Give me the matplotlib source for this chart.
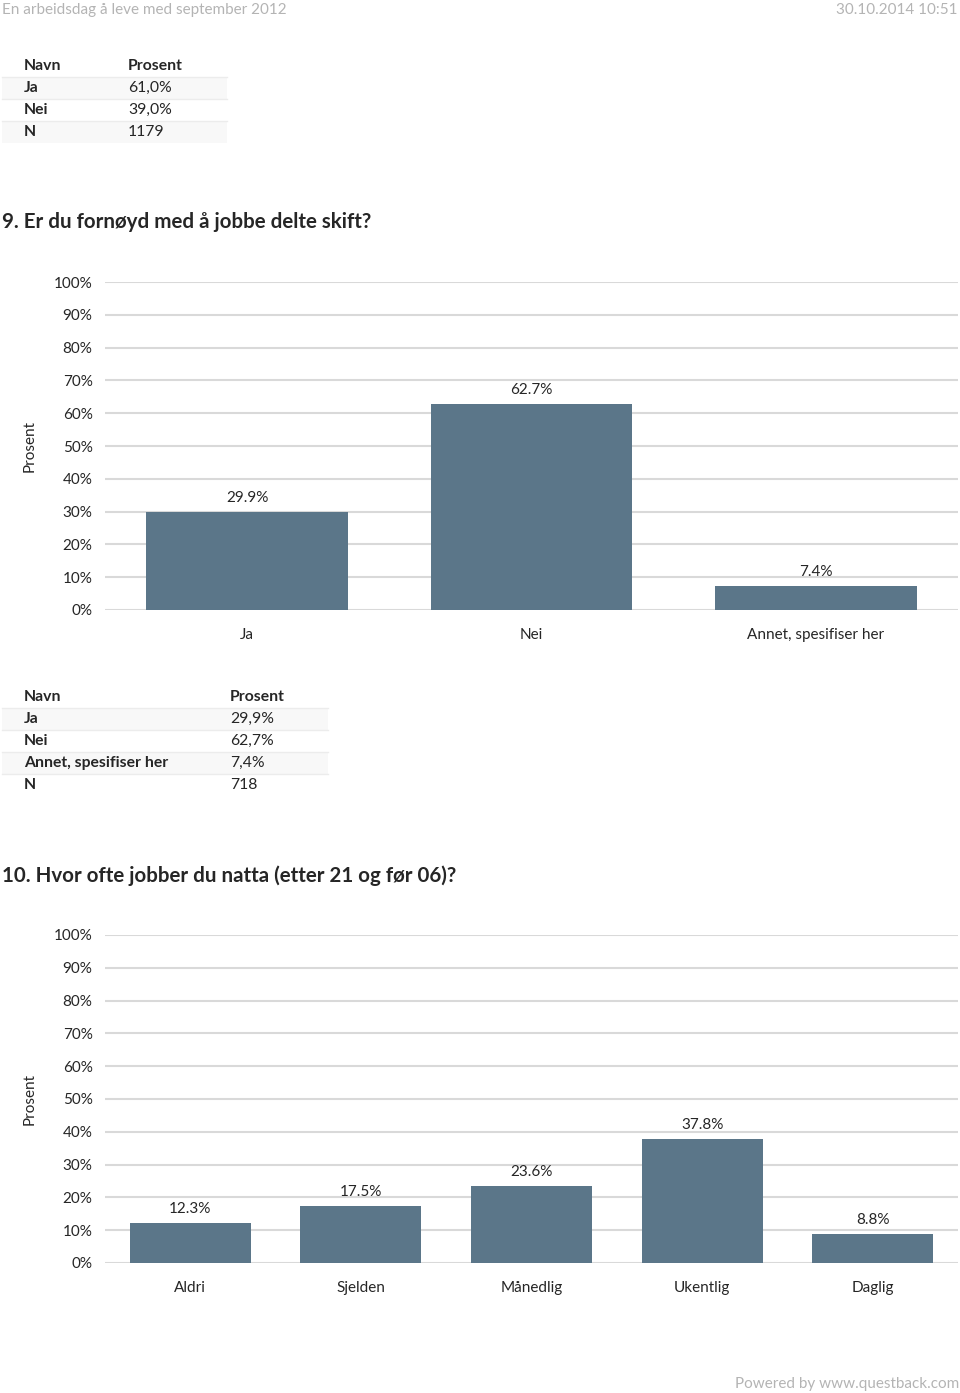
import matplotlib.pyplot as plt
from matplotlib.patches import Rectangle
import matplotlib.ticker as ticker

plt.rcParams['font.family'] = ['Lato', 'DejaVu Sans']

# Table from previous question
tab8_names = ['Ja', 'Nei', 'N']
tab8_values = ['61,0%', '39,0%', '1179']

# Question 9
q9_title = '9. Er du fornøyd med å jobbe delte skift?'
q9_cats = ['Ja', 'Nei', 'Annet, spesifiser her']
q9_vals = [29.9, 62.7, 7.4]
tab9_names = ['Ja', 'Nei', 'Annet, spesifiser her', 'N']
tab9_values = ['29,9%', '62,7%', '7,4%', '718']

# Question 10
q10_title = '10. Hvor ofte jobber du natta (etter 21 og før 06)?'
q10_cats = ['Aldri', 'Sjelden', 'Månedlig', 'Ukentlig', 'Daglig']
q10_vals = [12.3, 17.5, 23.6, 37.8, 8.8]

W, H = 960, 1393
bar_color = '#5b7689'
grid_color = '#d9d9d9'
text_color = '#262626'
gray_text = '#b4b4b4'

fig = plt.figure(figsize=(W / 100, H / 100), dpi=100)

# full-page axes in pixel coordinates for page text and tables
bg = fig.add_axes([0, 0, 1, 1])
bg.set_xlim(0, W)
bg.set_ylim(H, 0)
bg.axis('off')

bg.text(2, 10, 'En arbeidsdag å leve med september 2012', fontsize=11,
        color=gray_text, va='center', ha='left')
bg.text(958, 10, '30.10.2014 10:51', fontsize=11, color=gray_text,
        va='center', ha='right')
bg.text(959, 1384, 'Powered by www.questback.com', fontsize=11,
        color=gray_text, va='center', ha='right')


def draw_table(top, names, values, col2_x, right):
    row_h = 22
    bg.text(24, top, 'Navn', fontsize=11.3, fontweight='bold',
            color=text_color, va='center')
    bg.text(col2_x, top, 'Prosent', fontsize=11.3, fontweight='bold',
            color=text_color, va='center')
    for i, (n, v) in enumerate(zip(names, values)):
        y = top + (i + 1) * row_h
        if i % 2 == 0:
            bg.add_patch(Rectangle((2, y - row_h / 2), right - 2, row_h,
                                   facecolor='#f8f8f8', edgecolor='none'))
        bg.plot([2, right], [y - row_h / 2, y - row_h / 2],
                color='#ececec', lw=1)
        bg.text(24, y, n, fontsize=11.3, fontweight='bold',
                color=text_color, va='center')
        bg.text(col2_x, y, v, fontsize=11.3, color=text_color, va='center')


draw_table(66, tab8_names, tab8_values, 128, 227)
draw_table(697, tab9_names, tab9_values, 230, 328)

bg.text(2, 222, q9_title, fontsize=14.8, fontweight='bold',
        color=text_color, va='center')
bg.text(2, 876, q10_title, fontsize=14.8, fontweight='bold',
        color=text_color, va='center')


def bar_chart(top_px, bottom_px, cats, vals):
    left, right = 105, 958
    ax = fig.add_axes([left / W, 1 - bottom_px / H,
                       (right - left) / W, (bottom_px - top_px) / H])
    x = range(len(cats))
    ax.bar(x, vals, width=0.71, color=bar_color, zorder=3)
    for xi, v in zip(x, vals):
        ax.annotate(f'{v:.1f}%', (xi, v), xytext=(0, 5),
                    textcoords='offset points', ha='center', va='bottom',
                    fontsize=11, color=text_color)
    ax.set_xlim(-0.5, len(cats) - 0.5)
    ax.set_ylim(0, 100)
    ax.set_yticks(range(0, 101, 10))
    ax.yaxis.set_major_formatter(ticker.FuncFormatter(lambda v, p: f'{int(v)}%'))
    ax.set_xticks(list(x))
    ax.set_xticklabels(cats)
    ax.tick_params(axis='both', length=0, labelsize=11,
                   labelcolor=text_color)
    ax.tick_params(axis='y', pad=9)
    ax.tick_params(axis='x', pad=13)
    ax.grid(True, axis='y', color=grid_color, lw=1.5, zorder=0)
    for s in ax.spines.values():
        s.set_visible(False)
    ax.set_ylabel('Prosent', fontsize=11, color=text_color, labelpad=12)
    return ax


bar_chart(282, 610, q9_cats, q9_vals)
bar_chart(935, 1263, q10_cats, q10_vals)

fig.savefig('out.png', dpi=100)
